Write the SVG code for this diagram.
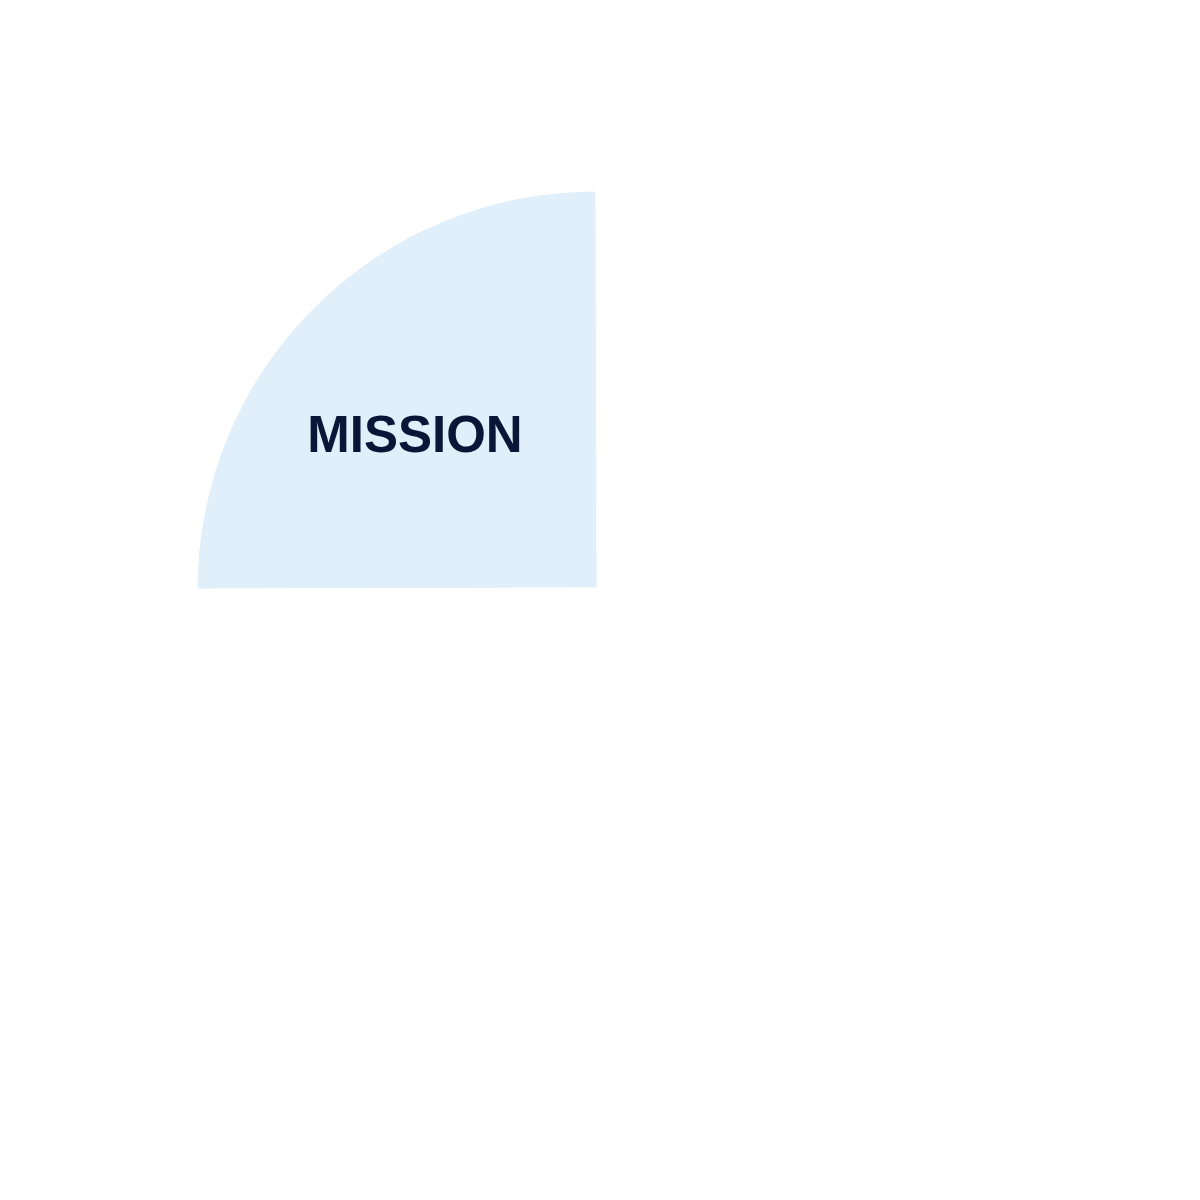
<svg xmlns="http://www.w3.org/2000/svg" width="1200" height="1200" viewBox="0 0 1200 1200">
<style>
.sector{fill:#E0EFFA;stroke:none}
.label{font-family:"Liberation Sans",Arial,sans-serif;font-weight:bold;font-size:51px;fill:#0B1538;text-anchor:middle}
</style>
<rect width="1200" height="1200" fill="#FFFFFF"/>
<g id="mission">
<path class="sector" d="M596.5,587.5 L197.5,588.5 A398,398 0 0 1 595.5,191.5 Z"/>
<text class="label" x="415" y="452">MISSION</text>
</g>
<g id="connectors"></g>
</svg>
